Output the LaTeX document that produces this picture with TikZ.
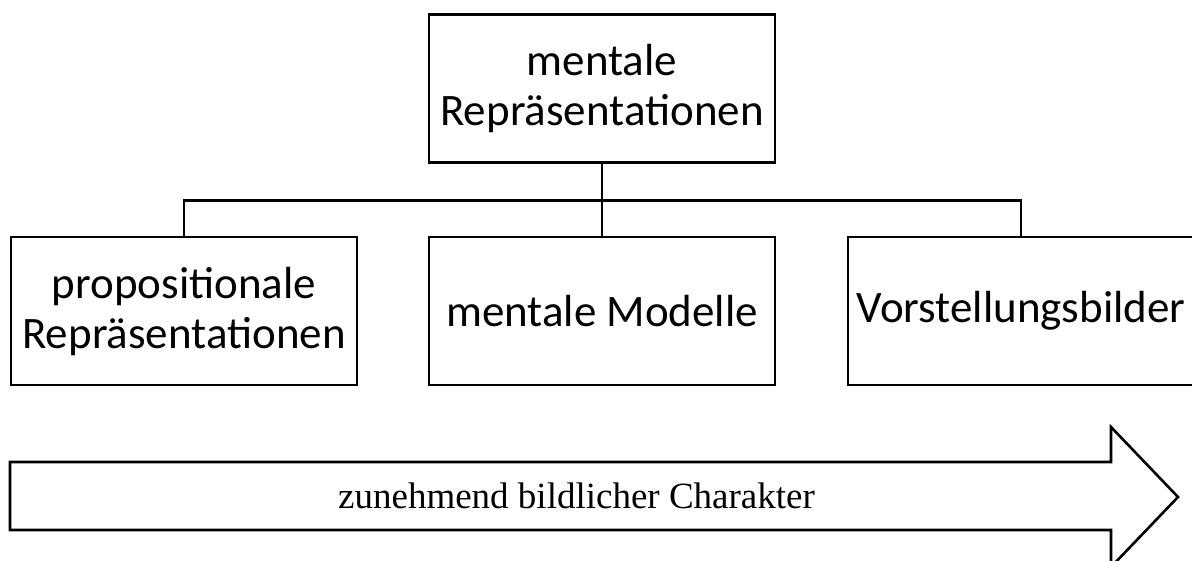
\documentclass[tikz,border=0pt]{standalone}
\usepackage{fontspec}
\setmainfont{Liberation Serif}
\newfontfamily\boxfont{Carlito}
\begin{document}
\begin{tikzpicture}[x=1pt,y=-1pt,
  conceptbox/.style={draw=black,line width=2.6pt,fill=white,inner sep=0pt,
    minimum width=346pt,minimum height=148pt,align=center,
    font=\boxfont\fontsize{45}{50}\selectfont},
  link/.style={draw=black,line width=2.2pt},
  bigarrow/.style={draw=black,line width=2.6pt,line join=miter,fill=white}]
\clip (0,0) rectangle (1192,560);
\useasboundingbox (0,0) rectangle (1192,560);

% Oberbegriff und die drei Formen
\node[conceptbox] (top) at (602,88.5) {mentale\\Repräsentationen};
\node[conceptbox] (prop) at (184,311) {propositionale\\Repräsentationen};
\node[conceptbox] (model) at (602,311) {mentale Modelle};
\node[conceptbox] (image) at (1021,311) {Vorstellungsbilder};

% Verbindungslinien
\coordinate (bus) at (602,200.5);
\draw[link] (top.south) -- (bus) -- (model.north);
\draw[link] (bus) -| (prop.north);
\draw[link] (bus) -| (image.north);

% Pfeil
\draw[bigarrow] (10,462) -- (1111,462) -- (1111,427) -- (1178,497)
  -- (1111,567) -- (1111,530) -- (10,530) -- cycle;
\node[font=\fontsize{37}{44}\selectfont,anchor=base] (axis) at (576.5,508)
  {zunehmend bildlicher Charakter};
\end{tikzpicture}
\end{document}
